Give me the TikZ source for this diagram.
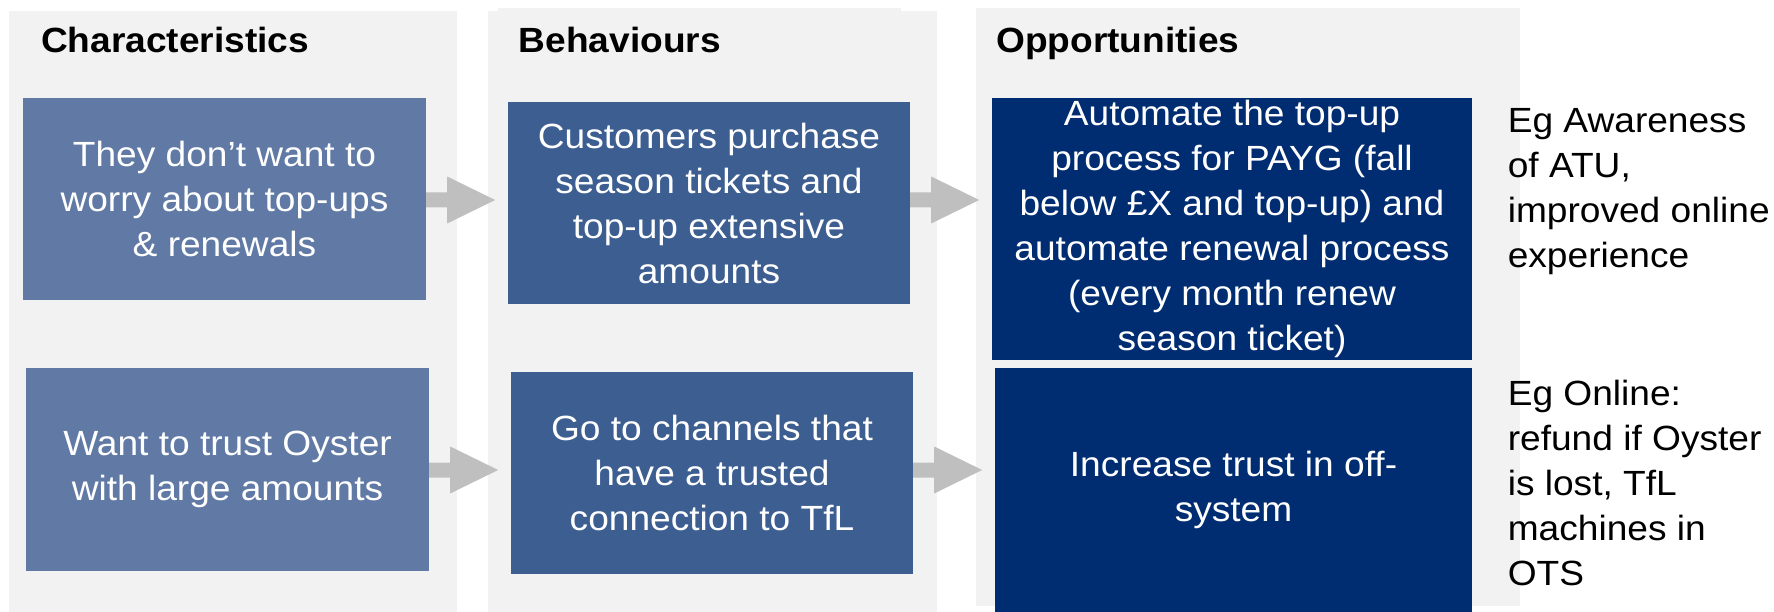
\documentclass[tikz,border=0pt]{standalone}
\usepackage{fontspec}
\setmainfont{Liberation Sans}[FakeStretch=1.06]
\usetikzlibrary{calc}
\definecolor{panelgray}{HTML}{F2F2F2}
\definecolor{charblue}{HTML}{607AA5}
\definecolor{behblue}{HTML}{3D5E91}
\definecolor{oppblue}{HTML}{002D72}
\definecolor{arrowgray}{HTML}{BFBFBF}
\tikzset{
  panel/.style={fill=panelgray, draw=none},
  boxbase/.style={draw=none, inner sep=0pt, align=center, text=white,
    font=\fontsize{35}{45}\selectfont},
  charbox/.style={boxbase, fill=charblue},
  behbox/.style={boxbase, fill=behblue},
  oppbox/.style={boxbase, fill=oppblue},
  header/.style={anchor=base west, inner sep=0pt, font=\fontsize{35}{45}\selectfont\bfseries},
  sidenote/.style={anchor=north west, inner sep=0pt, align=left, font=\fontsize{35}{45}\selectfont},
  arrowfill/.style={fill=arrowgray, draw=none}
}
\newcommand{\blockarrow}[1]{%
  \fill[arrowfill] ($#1+(0,-7.5)$) -- ++(21,0) -- ++(0,-16) -- ++(48,23.5)
    -- ++(-48,23.5) -- ++(0,-16) -- ($#1+(0,7.5)$) -- cycle;}
\begin{document}
\begin{tikzpicture}[x=1pt,y=-1pt]
\useasboundingbox (0,0) rectangle (1774,612);
% panels
\fill[panel] (9.2,11) rectangle (457,612);
\fill[panel] (488,11) rectangle (937,612);
\fill[panel] (498,8) rectangle (901,11);
\fill[panel] (976,8) rectangle (1520,606);
% headers
\node[header] (h1) at (41,53) {Characteristics};
\node[header] (h2) at (518.6,53) {Behaviours};
\node[header] (h3) at (996,53) {Opportunities};
% boxes
\node[charbox, minimum width=403pt, minimum height=202pt] (a1) at (224.5,199)
  {They don’t want to\\worry about top-ups\\\& renewals};
\node[charbox, minimum width=403pt, minimum height=203pt] (a2) at (227.5,469.5)
  {Want to trust Oyster\\with large amounts};
\node[behbox, minimum width=402pt, minimum height=202pt] (b1) at (709,203)
  {Customers purchase\\season tickets and\\top-up extensive\\amounts};
\node[behbox, minimum width=402pt, minimum height=202pt] (b2) at (712,473)
  {Go to channels that\\have a trusted\\connection to TfL};
\node[oppbox, minimum width=480pt, minimum height=262pt] (c1) at (1232,229)
  {Automate the top-up\\process for PAYG (fall\\below £X and top-up) and\\automate renewal process\\(every month renew\\season ticket)};
\node[oppbox, minimum width=477pt, minimum height=244pt] (c2) at (1233.5,490)
  {Increase trust in off-\\system};
% side notes
\node[sidenote] (n1) at (1507.6,108) {Eg Awareness\\of ATU,\\improved online\\experience};
\node[sidenote] (n2) at (1507.6,380) {Eg Online:\\refund if Oyster\\is lost, TfL\\machines in\\OTS};
% arrows
\blockarrow{(a1.east)+(0,1)}
\blockarrow{(b1.east)+(0,-3)}
\blockarrow{(a2.east)+(0,0.5)}
\blockarrow{(b2.east)+(0,-3)}
\end{tikzpicture}
\end{document}
